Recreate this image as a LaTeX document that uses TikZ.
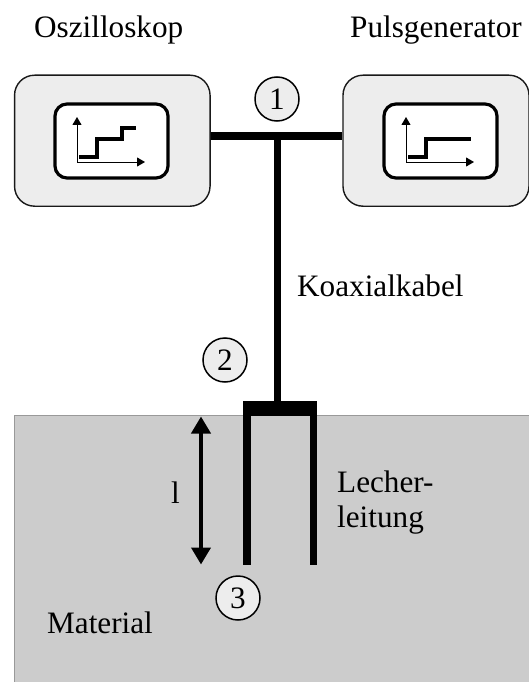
\documentclass[tikz,border=0pt]{standalone}
\usepackage{fontspec}
\setmainfont{Liberation Serif}
\usetikzlibrary{arrows.meta}
\tikzset{
  x=1pt,y=-1pt,
  label text/.style={anchor=base west,inner sep=0pt,font=\fontsize{31.2}{34}\selectfont,align=left},
  device/.style={draw=black!90,line width=1.4pt,fill=black!7,rounded corners=20pt,inner sep=0pt,minimum height=131pt},
  screen/.style={draw=black,line width=3.2pt,fill=white,rounded corners=12pt,inner sep=0pt,minimum width=113pt,minimum height=74pt},
  marker/.style={circle,draw=black,line width=1.5pt,fill=black!7,minimum size=44pt,inner sep=0pt,font=\fontsize{31.2}{34}\selectfont},
  cable/.style={line width=7.5pt,black},
  axis/.style={line width=1pt,-{Triangle[length=8pt,width=9pt]}},
  trace/.style={line width=3.3pt,miter limit=10},
  measure/.style={line width=4pt,{Triangle[length=17pt,width=19pt]}-{Triangle[length=17pt,width=19pt]},shorten >=-0.5pt,shorten <=-0.5pt},
}
\begin{document}
\begin{tikzpicture}
\useasboundingbox (0,0) rectangle (528,682);
% material
\node[draw=black!40,line width=0.8pt,fill=black!20,anchor=north west,minimum width=520pt,minimum height=272pt,inner sep=0pt] (material) at (14,415) {};
% devices
\node[device,minimum width=195.5pt] (osc) at (112.3,140.7) {};
\node[device,minimum width=186pt] (gen) at (436,140.7) {};
\node[screen] (oscs) at (111.5,141) {};
\node[screen] (gens) at (440.5,141) {};
% oscilloscope plot
\coordinate (oo) at (77,162);
\coordinate (oy) at (77,117);
\coordinate (ox) at (145,162);
\draw[axis] (oo) -- (oy);
\draw[axis] (oo) -- (ox);
\coordinate (ot0) at (79,157);
\coordinate (ot1) at (97,157);
\coordinate (ot2) at (97,139);
\coordinate (ot3) at (122,139);
\coordinate (ot4) at (122,128);
\coordinate (ot5) at (136,128);
\draw[trace] (ot0) -- (ot1) -- (ot2) -- (ot3) -- (ot4) -- (ot5);
% generator plot
\coordinate (go) at (406,162);
\coordinate (gy) at (406,117);
\coordinate (gx) at (474,162);
\draw[axis] (go) -- (gy);
\draw[axis] (go) -- (gx);
\coordinate (gt0) at (408,157);
\coordinate (gt1) at (426,157);
\coordinate (gt2) at (426,139);
\coordinate (gt3) at (471,139);
\draw[trace] (gt0) -- (gt1) -- (gt2) -- (gt3);
% cable
\coordinate (tee) at (277.7,136);
\draw[cable] (osc.east |- tee) -- (gen.west |- tee);
\node[fill=black,minimum width=74.5pt,minimum height=15pt,inner sep=0pt,anchor=north] (bar) at (280,401) {};
\draw[line width=7pt] (tee) -- (tee |- bar.north);
% Lecher legs
\coordinate (legl) at (246.8,565);
\coordinate (legr) at (313.5,565);
\draw[line width=8pt] (legl |- bar.south) -- (legl);
\draw[line width=7.6pt] (legr |- bar.south) -- (legr);
% length arrow
\coordinate (la) at (201,417);
\coordinate (lb) at (201,564);
\draw[measure] (la) -- (lb);
% markers
\node[marker] (m1) at (277,99) {1};
\node[marker] (m2) at (225,360) {2};
\node[marker] (m3) at (238,598) {3};
% text
\node[label text] (t1) at (34,38) {Oszilloskop};
\node[label text] (t2) at (350,38) {Pulsgenerator};
\node[label text] (t3) at (297,296) {Koaxialkabel};
\node[label text] (t4) at (337,492) {Lecher-};
\node[label text] (t5) at (337,527) {leitung};
\node[label text] (t6) at (47,633) {Material};
\node[label text] (t7) at (171,503) {l};
\end{tikzpicture}
\end{document}
